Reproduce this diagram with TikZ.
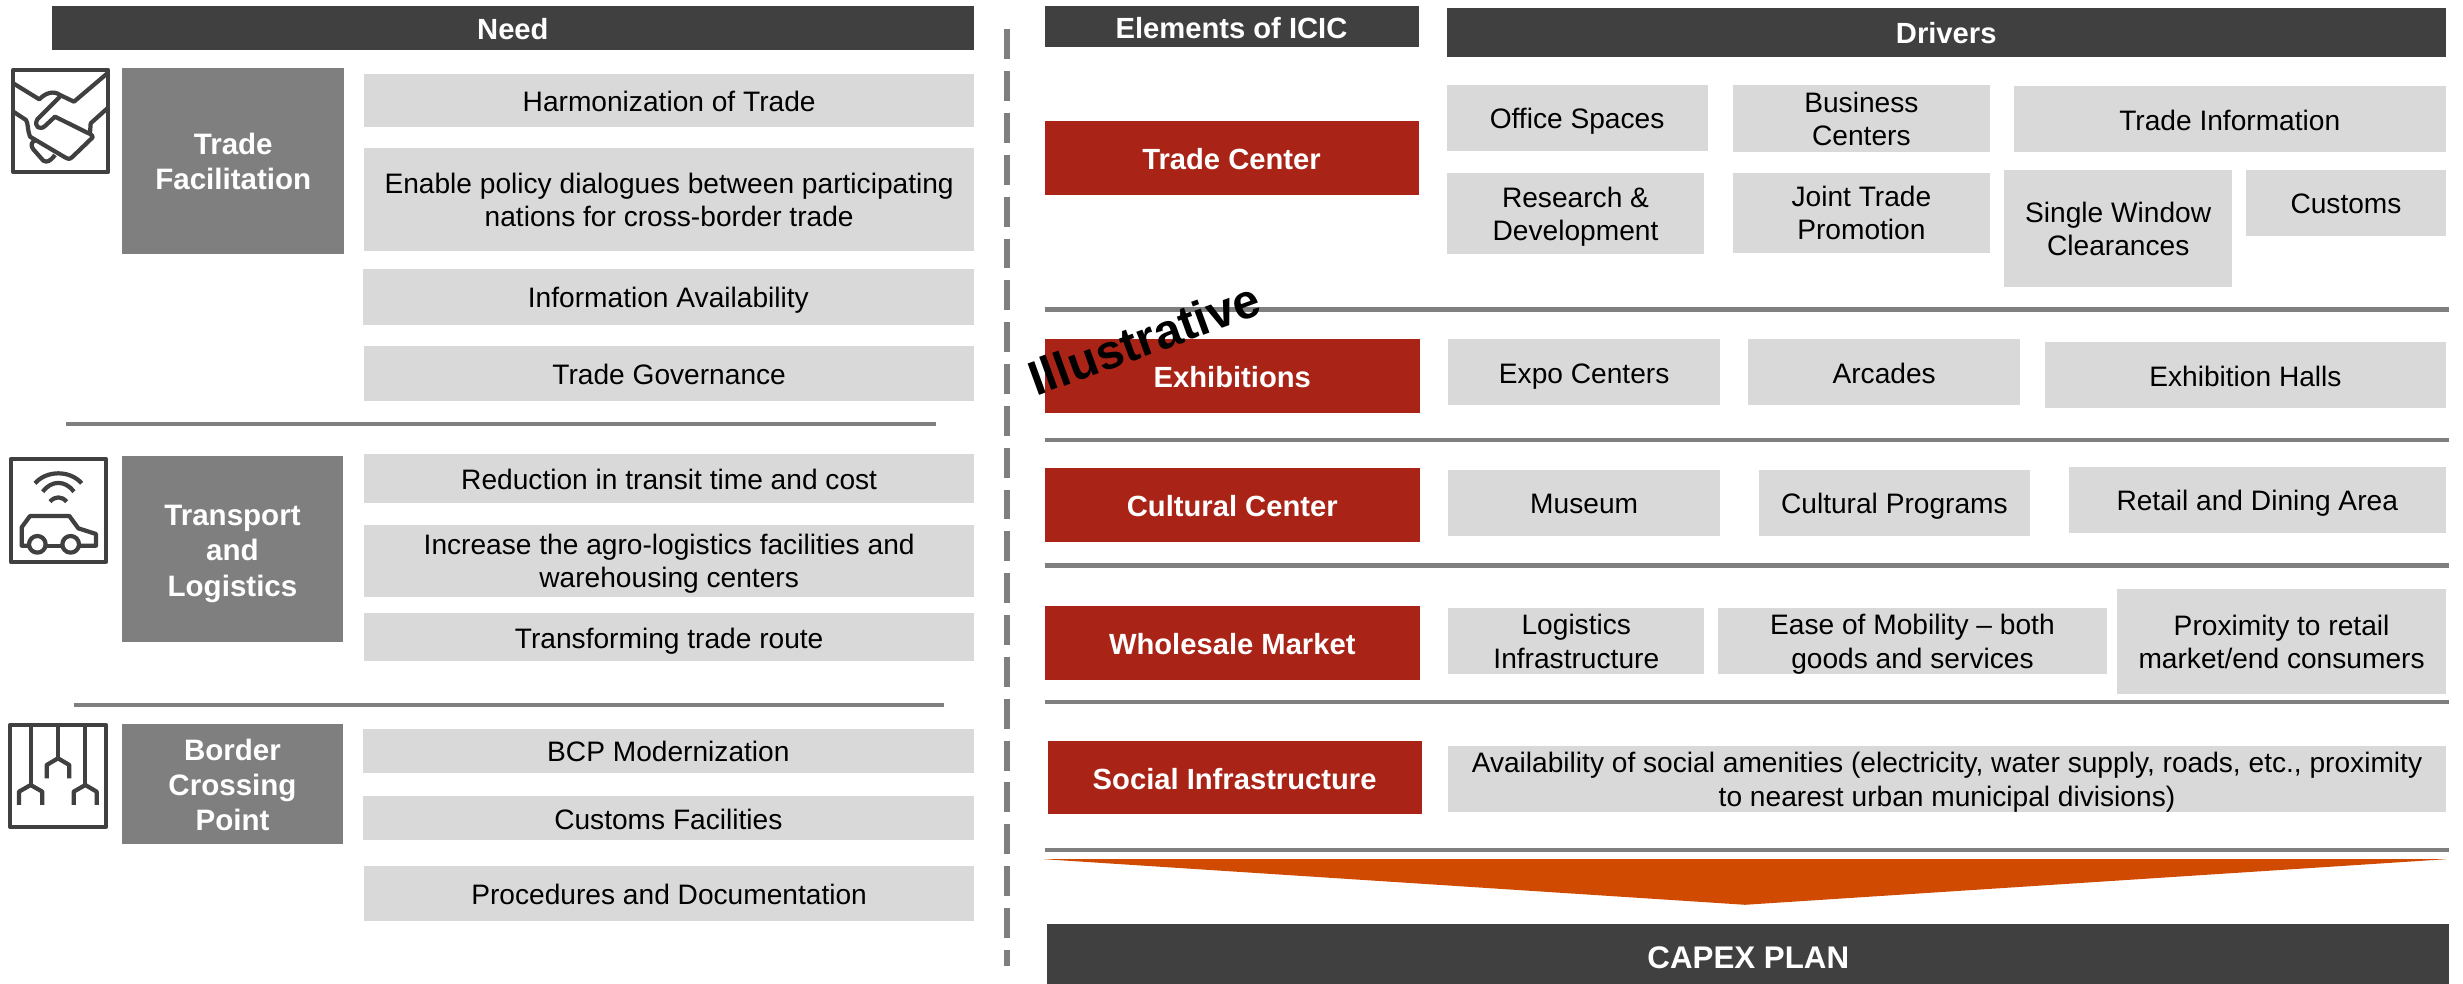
\documentclass[tikz,border=0pt]{standalone}
\usepackage{xcolor}
\usepackage{fontspec}
\setmainfont{Liberation Sans}
\definecolor{darkbar}{HTML}{404040}
\definecolor{midgray}{HTML}{7F7F7F}
\definecolor{cellgray}{HTML}{D9D9D9}
\definecolor{redbox}{HTML}{A92317}
\definecolor{orangearrow}{HTML}{D04A02}
\tikzset{
	wh/.style 2 args={minimum width=#1*0.15708mm,minimum height=#2*0.15708mm},
	linebox/.style={inner sep=0pt,align=center,execute at begin node={\rule{0pt}{#1em}},execute at end node={\rule[-0.212em]{0pt}{0.212em}}},
	twolines/.style={linebox=2.14},
	threelines/.style={linebox=3.4},
	cell/.style={linebox=1.0,fill=cellgray,text=black,font=\fontsize{8}{9.5}\selectfont},
	bar/.style={linebox=1.0,fill=darkbar,text=white,font=\fontsize{8.3}{9.7}\selectfont\bfseries},
	need/.style={fill=midgray,text=white,font=\fontsize{8.4}{10}\selectfont\bfseries},
	element/.style={linebox=1.0,fill=redbox,text=white,font=\fontsize{8.3}{9.7}\selectfont\bfseries},
	rule/.style={draw=midgray,line width=1.2pt},
	icon/.style={draw=darkbar,line width=1.2pt,line join=round}
}
\begin{document}
\begin{tikzpicture}[x=0.015708cm,y=-0.015708cm]
		\useasboundingbox (0,0) rectangle (1568,626.4);
		\node[bar,wh={587}{28}] (needbar) at (326.5,18) {Need};
		\node[bar,wh={238}{26}] (elementsbar) at (784,17) {Elements of ICIC};
		\node[bar,wh={636}{31}] (driversbar) at (1239,20.5) {Drivers};
		\node[need,twolines,wh={141}{118}] (tradefac) at (148.5,102.5) {Trade\\Facilitation};
		\node[need,threelines,wh={141}{118}] (transport) at (148,349.5) {Transport\\and\\Logistics};
		\node[need,threelines,wh={141}{76.5}] (border) at (148,499) {Border\\Crossing\\Point};
		\node[cell,wh={388}{34}] (harmonization) at (426,64) {Harmonization of Trade};
		\node[cell,twolines,wh={388}{66}] (dialogues) at (426,127) {Enable policy dialogues between participating\\nations for cross-border trade};
		\node[cell,wh={389}{36}] (information) at (425.5,189) {Information Availability};
		\node[cell,wh={388}{35}] (governance) at (426,237.5) {Trade Governance};
		\node[cell,wh={388}{31}] (reduction) at (426,304.5) {Reduction in transit time and cost};
		\node[cell,twolines,wh={388}{46}] (agro) at (426,357) {Increase the agro-logistics facilities and\\warehousing centers};
		\node[cell,wh={388}{31}] (route) at (426,405.5) {Transforming trade route};
		\node[cell,wh={389}{28}] (bcp) at (425.5,478) {BCP Modernization};
		\node[cell,wh={389}{28}] (facilities) at (425.5,521) {Customs Facilities};
		\node[cell,wh={388}{35}] (procedures) at (426,568.5) {Procedures and Documentation};
		\node[element,wh={238}{47}] (tradecenter) at (784,100.5) {Trade Center};
		\node[element,wh={239}{47}] (exhibitions) at (784.5,239.5) {Exhibitions};
		\node[element,wh={239}{47}] (cultural) at (784.5,321.5) {Cultural Center};
		\node[element,wh={239}{47}] (wholesale) at (784.5,409.5) {Wholesale Market};
		\node[element,wh={238}{46}] (social) at (786,495) {Social Infrastructure};
		\node[cell,wh={166}{42}] (office) at (1004,75) {Office Spaces};
		\node[cell,twolines,wh={164}{43}] (business) at (1185,75.5) {Business\\Centers};
		\node[cell,wh={275}{42}] (tradeinfo) at (1419.5,76) {Trade Information};
		\node[cell,twolines,wh={164}{52}] (research) at (1003,136) {Research \&\\Development};
		\node[cell,twolines,wh={164}{51}] (joint) at (1185,135.5) {Joint Trade\\Promotion};
		\node[cell,twolines,wh={145}{75}] (window) at (1348.5,145.5) {Single Window\\Clearances};
		\node[cell,wh={127}{42}] (customs) at (1493.5,129) {Customs};
		\node[cell,wh={173}{42}] (expo) at (1008.5,237) {Expo Centers};
		\node[cell,wh={173}{42}] (arcades) at (1199.5,237) {Arcades};
		\node[cell,wh={255}{42}] (halls) at (1429.5,239) {Exhibition Halls};
		\node[cell,wh={173}{42}] (museum) at (1008.5,320) {Museum};
		\node[cell,wh={172}{42}] (programs) at (1206,320) {Cultural Programs};
		\node[cell,wh={240}{42}] (retail) at (1437,318) {Retail and Dining Area};
		\node[cell,twolines,wh={163}{42}] (logistics) at (1003.5,408) {Logistics\\Infrastructure};
		\node[cell,twolines,wh={247}{42}] (mobility) at (1217.5,408) {Ease of Mobility -- both\\goods and services};
		\node[cell,twolines,wh={209}{67}] (proximity) at (1452.5,408.5) {Proximity to retail\\market/end consumers};
		\node[cell,twolines,wh={635}{42}] (amenities) at (1239.5,496) {Availability of social amenities (electricity, water supply, roads, etc., proximity\\to nearest urban municipal divisions)};
		\node[linebox=1.15,fill=darkbar,text=white,font=\fontsize{8.9}{10}\selectfont\bfseries,wh={892}{38.4}] (capex) at (1113,607.2) {CAPEX PLAN};
		\draw[rule] (42,270) -- (596,270);
		\draw[rule] (47,449) -- (601,449);
		\draw[rule] (665,197) -- (1559,197);
		\draw[rule] (665,280) -- (1559,280);
		\draw[rule] (665,360) -- (1559,360);
		\draw[rule] (665,447) -- (1559,447);
		\draw[rule] (665,541) -- (1559,541);
		\draw[midgray,line width=1.6pt,dash pattern=on 8.5pt off 3.4pt] (641,18.65) -- (641,615);
		\fill[orangearrow] (665,547) -- (1557,547) -- (1111,576) -- cycle;
		\node[rotate=20,inner sep=0pt,text=black,font=\fontsize{13.8}{15}\selectfont\bfseries] (illustrative) at (728.5,215.5) {Illustrative};
		\begin{scope}[shift={(0,25.46)},scale=0.2122]
			\draw[icon] (40,90) rectangle (324,396);
			\draw[icon] (40,130) -- (118,178) .. controls (135,160) and (160,150) .. (180,165) -- (222,185) -- (322,100);
			\draw[icon] (180,170) -- (112,238) .. controls (100,260) and (120,272) .. (135,258) -- (165,230) -- (270,282) .. controls (280,288) and (280,292) .. (272,298) -- (218,350) .. controls (210,358) and (205,358) .. (195,352) -- (90,290) .. controls (82,270) and (85,250) .. (78,240) -- (40,215);
			\draw[icon] (270,280) -- (272,250) -- (322,205);
			\draw[icon] (108,300) .. controls (92,305) and (92,318) .. (100,328) -- (130,362) .. controls (140,368) and (150,365) .. (165,345);
		\end{scope}
		\begin{scope}[shift={(0,280.1)},scale=0.2122]
			\draw[icon] (32,58) rectangle (318,365);
			\draw[icon] (105,130) .. controls (140,90) and (210,90) .. (245,130);
			\draw[icon] (128,155) .. controls (155,120) and (195,120) .. (222,155);
			\draw[icon] (150,185) .. controls (165,168) and (185,168) .. (200,185);
			\draw[icon] (87,317) -- (65,317) -- (65,262) -- (90,228) -- (208,228) -- (235,265) -- (288,282) -- (288,317) -- (237,317);
			\draw[icon] (112,313) circle (25);
			\draw[icon] (212,313) circle (25);
			\draw[icon] (137,317) -- (187,317);
		\end{scope}
		\begin{scope}[shift={(0,280.1)},scale=0.2122]
			\draw[icon] (30,855) rectangle (318,1160);
			\draw[icon] (92,855) -- (92,1035);
			\draw[icon] (57,1095) -- (57,1055) -- (92,1035) -- (127,1055) -- (127,1095);
			\draw[icon] (174,855) -- (174,955);
			\draw[icon] (140,1015) -- (140,975) -- (174,955) -- (208,975) -- (208,1015);
			\draw[icon] (256,855) -- (256,1035);
			\draw[icon] (221,1095) -- (221,1055) -- (256,1035) -- (290,1055) -- (290,1095);
		\end{scope}
\end{tikzpicture}
\end{document}
